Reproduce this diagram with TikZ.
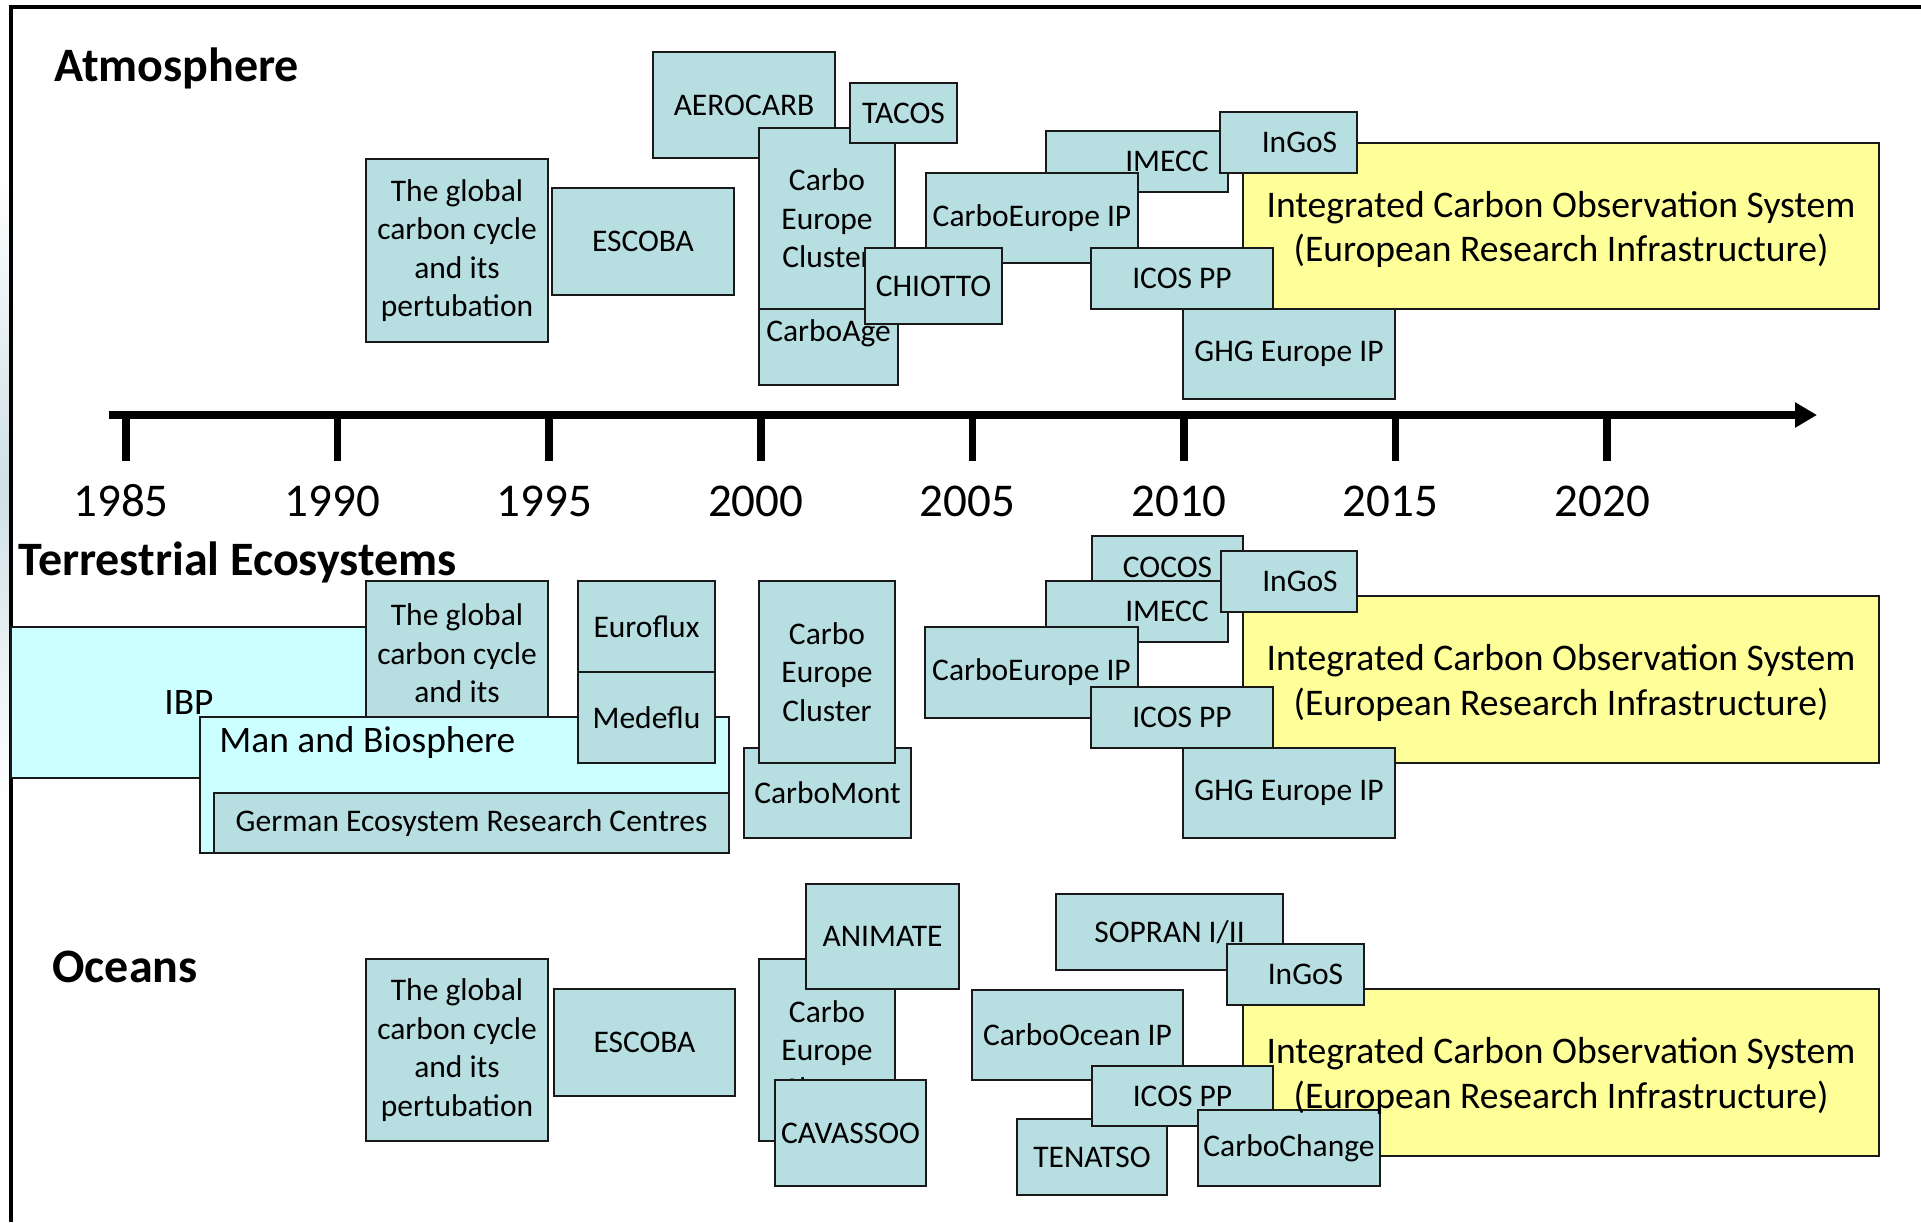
\documentclass[tikz,border=0pt]{standalone}
\usepackage{fontspec}
\setmainfont{Carlito}
\usetikzlibrary{arrows.meta}
\definecolor{boxteal}{RGB}{183,222,225}
\definecolor{icosyellow}{RGB}{255,255,153}
\definecolor{ibpcyan}{RGB}{204,255,255}
\definecolor{cloud}{RGB}{208,224,230}
\tikzset{
  boxat/.style n args={4}{minimum width={(#3-#1)*0.5pt}, minimum height={(#4-#2)*0.5pt},
    at={({(#1+#3)/2},{(#2+#4)/2})}},
  tbox/.style={draw=black!90, line width=1pt, fill=boxteal, inner sep=0pt, align=center,
    font=\fontsize{15.75}{19.25}\selectfont},
  cbox/.style={tbox, fill=ibpcyan},
  ybox/.style={tbox, fill=icosyellow},
  btext/.style={inner sep=0pt, font=\fontsize{15.75}{19.25}\selectfont},
  ytext/.style={inner sep=0pt, align=center, yshift=-1.8pt, font=\fontsize{18.8}{22.3}\selectfont},
  sectitle/.style={inner sep=0pt, anchor=base west, font=\fontsize{24}{29}\selectfont\bfseries},
  year/.style={inner sep=0pt, anchor=base, font=\fontsize{23.5}{28}\selectfont},
  axis/.style={line width=3.75pt, -{Triangle[length=11pt,width=12pt]}},
  yrtick/.style={line width=3.75pt},
}
\begin{document}
\begin{tikzpicture}[x=0.5pt, y=-0.5pt]
\useasboundingbox (0,0) rectangle (1921,1222);
\shade[top color=white, bottom color=white, middle color=cloud] (0,170) rectangle (9,800);
\draw[line width=2pt] (11,1222) -- (11,7) -- (1921,7);

% atmosphere
\node (Atm) [sectitle] at (54,81) {Atmosphere};
\node (Gcc1) [tbox, boxat={366}{159}{548}{342}] {The global\\carbon cycle\\and its\\pertubation};
\node (Esc1) [tbox, boxat={552}{188}{734}{295}] {ESCOBA};
\node (Aero) [tbox, boxat={653}{52}{835}{158}] {AEROCARB};
\node (CA) [tbox, boxat={759}{281}{898}{385}] {CarboAge};
\node (Cl1) [tbox, boxat={759}{128}{895}{309}] {Carbo\\Europe\\Cluster};
\node (Tac) [tbox, boxat={850}{83}{957}{143}] {TACOS};
\node (Im1) [tbox, boxat={1046}{131}{1228}{192}] {};
\node (Im1T) [btext] at ([xshift=15pt]Im1.center) {IMECC};
\node (CeIP1) [tbox, boxat={926}{173}{1138}{263}] {CarboEurope IP};
\node (Chi) [tbox, boxat={865}{248}{1002}{324}] {CHIOTTO};
\node (Icos1) [ybox, boxat={1243}{143}{1879}{309}] {};
\node (Ing1) [tbox, boxat={1220}{112}{1357}{173}] {};
\node (Ing1T) [btext] at ([xshift=5.5pt]Ing1.center) {InGoS};
\node (Pp1) [tbox, boxat={1091}{248}{1273}{309}] {ICOS PP};
\node (Ghg1) [tbox, boxat={1183}{309}{1395}{399}] {GHG Europe IP};
\node (Icos1T) [ytext] at (Icos1.center) {Integrated Carbon Observation System\\(European Research Infrastructure)};

% time line
\coordinate (TL0) at (109,415);
\coordinate (TL1) at (1817,415);
\draw[axis] (TL0) -- (TL1);
\foreach \yr [count=\i from 0] in {1985,1990,...,2020} {
  \coordinate (T\yr) at ({126+211.6*\i},415);
  \draw[yrtick] (T\yr) -- ++(0,46);
  \node (Y\yr) [year] at ({121+211.6*\i},516) {\yr};
}

% terrestrial ecosystems
\node (Ter) [sectitle] at (18,575) {Terrestrial Ecosystems};
\node (Ibp) [cbox, boxat={11}{627}{367}{778}, font=\fontsize{18.7}{22}\selectfont] {IBP};
\node (Gcc2) [tbox, boxat={366}{581}{548}{764}] {The global\\carbon cycle\\and its\\\mbox{}};
\node (Efx) [tbox, boxat={578}{581}{715}{672}] {Euroflux};
\node (Mab) [cbox, boxat={200}{717}{729}{853}] {};
\node (MabT) [inner sep=0pt, anchor=base west, font=\fontsize{18.7}{22}\selectfont]
  at ([shift={(10pt,-18pt)}]Mab.north west) {Man and Biosphere};
\node (Mdf) [tbox, boxat={578}{672}{715}{763}] {Medeflu};
\node (Gerc) [tbox, boxat={214}{793}{729}{853}] {German Ecosystem Research Centres};
\node (CM) [tbox, boxat={744}{748}{911}{838}] {CarboMont};
\node (Cl2) [tbox, boxat={759}{581}{895}{763}] {Carbo\\Europe\\Cluster};
\node (Coc) [tbox, boxat={1092}{536}{1243}{598}] {COCOS};
\node (Im2) [tbox, boxat={1046}{581}{1228}{642}] {};
\node (Im2T) [btext] at ([xshift=15pt]Im2.center) {IMECC};
\node (Icos2) [ybox, boxat={1243}{596}{1879}{763}] {};
\node (Ing2) [tbox, boxat={1221}{551}{1357}{612}] {};
\node (Ing2T) [btext] at ([xshift=5.5pt]Ing2.center) {InGoS};
\node (CeIP2) [tbox, boxat={925}{627}{1138}{718}] {CarboEurope IP};
\node (Pp2) [tbox, boxat={1091}{687}{1273}{748}] {ICOS PP};
\node (Ghg2) [tbox, boxat={1183}{748}{1395}{838}] {GHG Europe IP};
\node (Icos2T) [ytext] at (Icos2.center) {Integrated Carbon Observation System\\(European Research Infrastructure)};

% oceans
\node (Oce) [sectitle] at (52,982) {Oceans};
\node (Gcc3) [tbox, boxat={366}{959}{548}{1141}] {The global\\carbon cycle\\and its\\pertubation};
\node (Esc3) [tbox, boxat={554}{989}{735}{1096}] {ESCOBA};
\node (Cl3) [tbox, boxat={759}{959}{895}{1141}] {Carbo\\Europe\\Cluster};
\node (Ani) [tbox, boxat={806}{884}{959}{989}] {ANIMATE};
\node (Cav) [tbox, boxat={775}{1080}{926}{1186}] {CAVASSOO};
\node (Sop) [tbox, boxat={1056}{894}{1283}{970}] {SOPRAN I/II};
\node (Icos3) [ybox, boxat={1243}{989}{1879}{1156}] {};
\node (Ing3) [tbox, boxat={1227}{944}{1364}{1005}] {};
\node (Ing3T) [btext] at ([xshift=5pt]Ing3.center) {InGoS};
\node (CO) [tbox, boxat={972}{990}{1183}{1080}] {CarboOcean IP};
\node (Ten) [tbox, boxat={1017}{1119}{1167}{1195}] {TENATSO};
\node (Pp3) [tbox, boxat={1092}{1066}{1273}{1126}] {ICOS PP};
\node (Chg) [tbox, boxat={1198}{1110}{1380}{1186}] {CarboChange};
\node (Icos3T) [ytext] at (Icos3.center) {Integrated Carbon Observation System\\(European Research Infrastructure)};
\end{tikzpicture}
\end{document}
